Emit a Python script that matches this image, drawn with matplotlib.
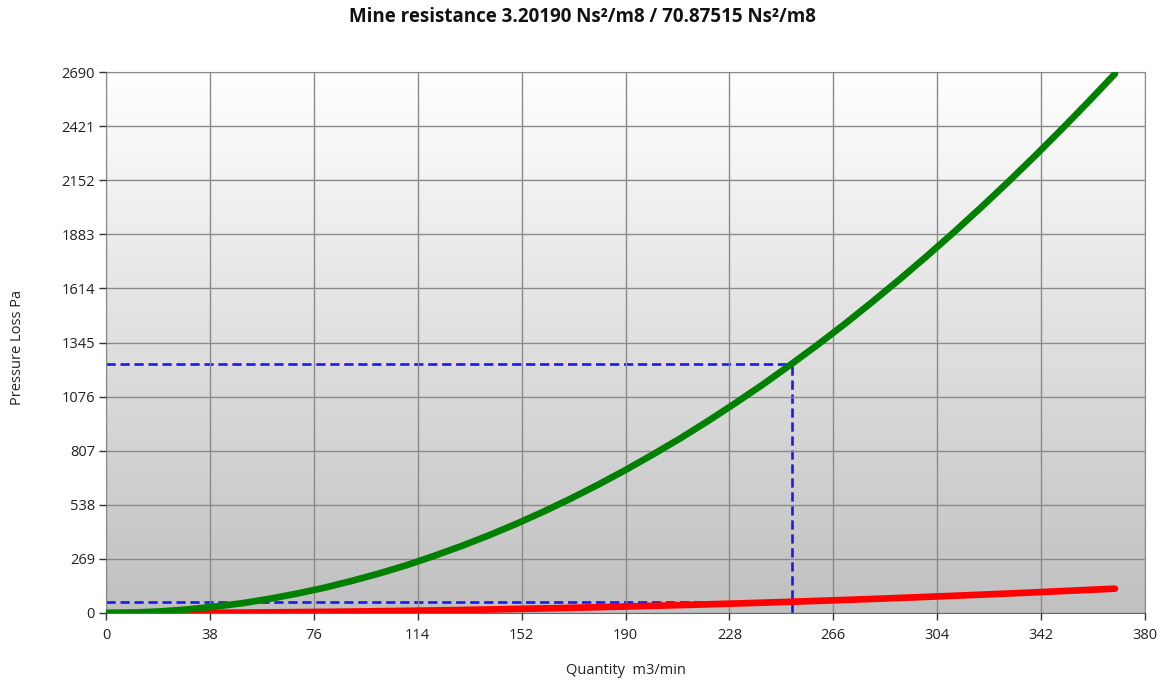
import numpy as np
import matplotlib
matplotlib.use("Agg")
import matplotlib.pyplot as plt
from matplotlib.colors import LinearSegmentedColormap

plt.rcParams['font.family'] = ['Open Sans', 'DejaVu Sans']

# Airflow quantity (m3/min) and pressure loss (Pa) for the two resistances
quantity = [0, 10, 20, 30, 40, 50, 60, 70, 80, 90, 100, 110, 120, 130, 140,
            150, 160, 170, 180, 190, 200, 210, 220, 230, 240, 250, 260, 270,
            280, 290, 300, 310, 320, 330, 340, 350, 360, 369]
loss_high = [0, 2, 8, 18, 32, 49, 71, 97, 126, 160, 197, 238, 284, 333, 386,
             443, 504, 569, 638, 711, 788, 868, 953, 1042, 1134, 1231, 1331,
             1435, 1544, 1656, 1772, 1892, 2016, 2144, 2276, 2412, 2552, 2681]
loss_low = [0, 0.1, 0.4, 0.8, 1.4, 2.2, 3.2, 4.4, 5.7, 7.2, 8.9, 10.8, 12.8,
            15.0, 17.4, 20.0, 22.8, 25.7, 28.8, 32.1, 35.6, 39.2, 43.1, 47.1,
            51.2, 55.6, 60.1, 64.8, 69.7, 74.8, 80.1, 85.5, 91.1, 96.9, 102.8,
            109.0, 115.3, 121.1]

# Operating point
op_quantity = 251
op_loss_high = 1240
op_loss_low = 56

x_ticks = [0, 38, 76, 114, 152, 190, 228, 266, 304, 342, 380]
y_ticks = [0, 269, 538, 807, 1076, 1345, 1614, 1883, 2152, 2421, 2690]

title = "Mine resistance 3.20190 Ns²/m8 / 70.87515 Ns²/m8"

fig = plt.figure(figsize=(11.64, 6.83), dpi=100)
ax = fig.add_axes([106 / 1164, 1 - 613 / 683, (1145 - 106) / 1164, (613 - 72) / 683])

# vertical gradient background: white at top to grey at bottom
grad = np.linspace(0, 1, 256).reshape(-1, 1)
cmap = LinearSegmentedColormap.from_list("bg", ["#ffffff", "#c0c0c0"])
ax.imshow(grad, cmap=cmap, aspect="auto", extent=[0, 1, 0, 1], origin="upper",
          transform=ax.transAxes, zorder=0, interpolation="bicubic")

ax.set_xlim(0, 380)
ax.set_ylim(0, 2690)
ax.set_xticks(x_ticks)
ax.set_yticks(y_ticks)
ax.grid(True, color="#8a8a8a", linewidth=1.0, zorder=1)
ax.set_axisbelow(False)

dash = dict(color="#1a1aee", linewidth=1.9, linestyle=(0, (3.5, 1.8)), zorder=2)
ax.plot([0, op_quantity], [op_loss_high, op_loss_high], **dash)
ax.plot([0, op_quantity], [op_loss_low, op_loss_low], **dash)
ax.plot([op_quantity, op_quantity], [0, op_loss_high], **dash)

ax.plot(quantity, loss_low, color="#ff0000", linewidth=4.8,
        solid_capstyle="round", zorder=3)
ax.plot(quantity, loss_high, color="#008000", linewidth=4.8,
        solid_capstyle="round", zorder=4)

for side in ("top", "right"):
    ax.spines[side].set_color("#8a8a8a")
for side in ("left", "bottom"):
    ax.spines[side].set_color("#6a6a6a")

ax.tick_params(axis="both", direction="out", length=5, width=1,
               color="#333333", labelsize=10.5, labelcolor="#222222")
ax.tick_params(axis="x", pad=6)
ax.tick_params(axis="y", pad=3)

fig.text(0.5, 1 - 17 / 683, title, ha="center", va="center",
         fontsize=13.5, fontweight="bold", color="#111111")
fig.text(18 / 1164, 1 - 347 / 683, "Pressure Loss Pa", rotation=90,
         ha="center", va="center", fontsize=10.5, color="#222222")
fig.text(626 / 1164, 1 - 670 / 683, "Quantity  m3/min", ha="center",
         va="center", fontsize=10.5, color="#222222")

fig.savefig("out.png", dpi=100)
